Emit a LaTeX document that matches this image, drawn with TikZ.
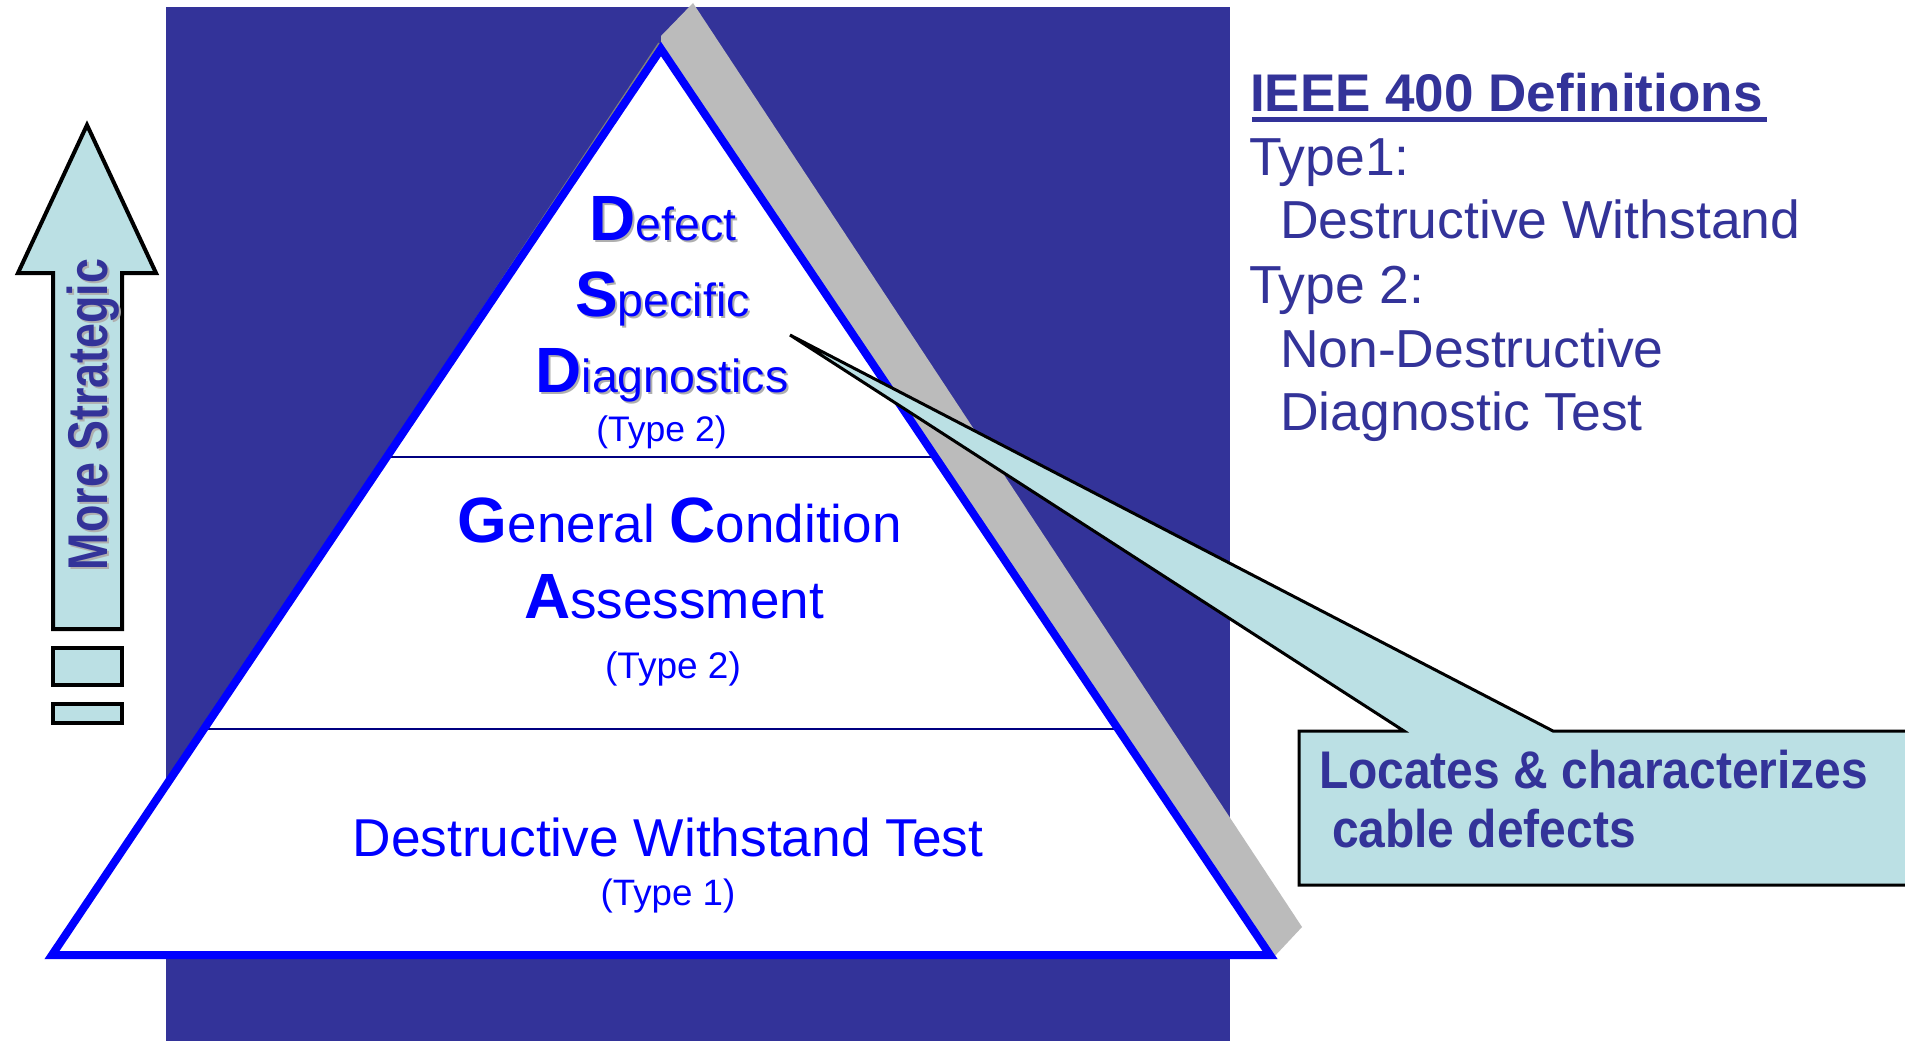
\documentclass[tikz,border=0pt]{standalone}
\usepackage{fontspec}
\setmainfont{Liberation Sans}
\usepackage{graphicx}
\usetikzlibrary{calc}
\definecolor{bgblue}{RGB}{51,51,153}
\definecolor{pyblue}{RGB}{0,0,255}
\definecolor{divnavy}{RGB}{0,0,128}
\definecolor{shadowgray}{RGB}{187,187,187}
\definecolor{cyanfill}{RGB}{187,224,228}
\definecolor{txtshadow}{RGB}{175,175,175}
\newcommand{\fsz}[1]{\fontsize{#1}{#1}\selectfont}
\newcommand{\capL}[1]{{\fsz{64}\bfseries #1}}
\begin{document}
\begin{tikzpicture}[x=1pt,y=-1pt,
  txt/.style={inner sep=0pt, outer sep=0pt, anchor=base},
  pyr/.style={txt, text=pyblue},
  pyrshadow/.style={txt, text=txtshadow},
  deftxt/.style={inner sep=0pt, outer sep=0pt, anchor=base west, text=bgblue, font=\fsz{53.5}},
  boxline/.style={draw=black, line width=4pt, fill=cyanfill, line join=miter},
  calltxt/.style={inner sep=0pt, outer sep=0pt, anchor=base west, text=bgblue}]
\useasboundingbox (0,0) rectangle (1905,1041);
\fill[white] (0,0) rectangle (1905,1041);
% background panel
\fill[bgblue] (166,7) rectangle (1230,1041);
% pyramid corners
\coordinate (A) at (661,49);
\coordinate (BL) at (52,955);
\coordinate (BR) at (1270,955);
% extruded shadow
\fill[shadowgray] (661,36) -- (693,3) -- (1302,927) -- (1273,958) -- (A) -- cycle;
\draw[gray, line width=1.5pt] (659,43) -- (452,355);
% pyramid body
\fill[white] (A) -- (BL) -- (BR) -- cycle;
\draw[divnavy, line width=2pt] ($(A)!0.4503!(BL)$) -- ($(A)!0.4503!(BR)$);
\draw[divnavy, line width=2pt] ($(A)!0.7506!(BL)$) -- ($(A)!0.7506!(BR)$);
\draw[pyblue, line width=8pt, line join=miter] (A) -- (BL) -- (BR) -- cycle;
% top tier text with shadow
\node[pyrshadow] (defS) at (665,242.7) {\capL{D}\fsz{46.5}efect};
\node[pyr] (def) at (663,240.7) {\capL{D}\fsz{46.5}efect};
\node[pyrshadow] (specS) at (664.5,318.7) {\capL{S}\fsz{46.5}pecific};
\node[pyr] (spec) at (662.5,316.7) {\capL{S}\fsz{46.5}pecific};
\node[pyrshadow] (diagS) at (664,394.7) {\capL{D}\fsz{46.5}iagnostics};
\node[pyr] (diag) at (662,392.7) {\capL{D}\fsz{46.5}iagnostics};
\node[pyr, font=\fsz{35.5}] (t2a) at (661.5,441.7) {(Type 2)};
% middle tier
\node[pyr] (gc) at (679.7,542.3) {\capL{G}\fsz{53}eneral \capL{C}\fsz{53}ondition};
\node[pyr] (as) at (674,618.3) {\capL{A}\fsz{53}ssessment};
\node[pyr, font=\fsz{37}] (t2b) at (673,678.3) {(Type 2)};
% bottom tier
\node[pyr, font=\fsz{53.3}] (dwt) at (668,856) {Destructive Withstand Test};
\node[pyr, font=\fsz{36.7}] (t1) at (668,905) {(Type 1)};
% definitions
\node[deftxt, font=\fsz{53}\bfseries] (title) at (1250,111) {IEEE 400 Definitions};
\draw[bgblue, line width=5pt] (1252,119) -- (1767,119);
\node[deftxt] (ty1) at (1249,175) {Type1:};
\node[deftxt] (ty1d) at (1280,238) {Destructive Withstand};
\node[deftxt] (ty2) at (1249,303) {Type 2:};
\node[deftxt] (ty2d) at (1280,367) {Non-Destructive};
\node[deftxt] (ty2e) at (1280,430) {Diagnostic Test};
% callout
\coordinate (tip) at (790,335);
\draw[boxline, line width=3pt] (1299,731) -- (1404,731) -- (tip) -- (1553,731) -- (1920,731) -- (1920,885) -- (1299,885) -- cycle;
\node[calltxt] (loc1) at (1319,788) {\scalebox{0.905}[1]{\fsz{53}\bfseries Locates \& characterizes}};
\node[calltxt] (loc2) at (1332,847) {\scalebox{0.905}[1]{\fsz{53}\bfseries cable defects}};
% strategic arrow
\draw[boxline] (87,125) -- (156,273) -- (122,273) -- (122,629) -- (53,629) -- (53,273) -- (18,273) -- cycle;
\draw[boxline] (53,648) rectangle (122,685);
\draw[boxline] (53,704) rectangle (122,722.5);
\node[inner sep=0pt, outer sep=0pt, anchor=base west, rotate=90, text=txtshadow] (msS) at (109,572) {\scalebox{0.8}[1]{\fsz{56}\bfseries More Strategic}};
\node[inner sep=0pt, outer sep=0pt, anchor=base west, rotate=90, text=bgblue] (ms) at (107,570) {\scalebox{0.8}[1]{\fsz{56}\bfseries More Strategic}};
\end{tikzpicture}
\end{document}
